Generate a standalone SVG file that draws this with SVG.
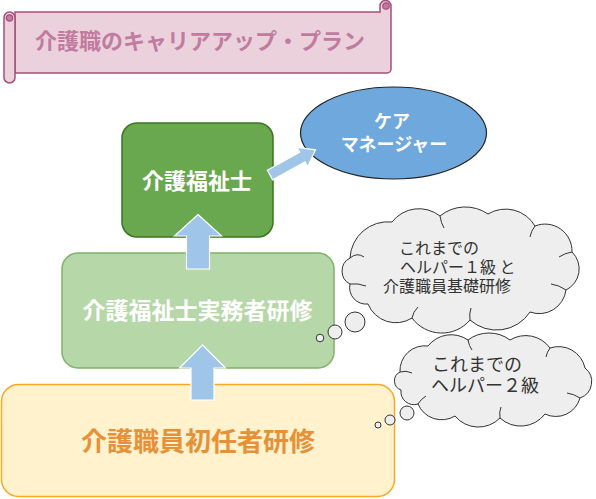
<svg xmlns="http://www.w3.org/2000/svg" width="596" height="499" viewBox="0 0 596 499">
<style>
  text { font-family: "Noto Sans CJK JP", "Noto Sans", sans-serif; }
  .arrow { fill: #9fc5e8; stroke: #ffffff; stroke-width: 1.2; }
  .cloud { fill: #eeeeee; stroke: #333333; stroke-width: 1; }
  .inner { fill: none; stroke: #333333; stroke-width: 1; }
  .ctext { fill: #333333; }
  .wbold { fill: #ffffff; font-weight: bold; text-anchor: middle; }
  .banner { fill: #ead1dc; stroke: #a64d79; stroke-width: 1.5; }
</style>
<rect width="596" height="499" fill="#ffffff"/>

<g id="title">
  <path class="banner" d="M15,12 H380 V6 A5.5,5.5 0 0 1 391,6 V69 A4,4 0 0 1 387,73 H15 Z"/>
  <circle cx="386" cy="6" r="3.2" fill="#c27ba0" stroke="#a64d79" stroke-width="1.2"/>
  <rect class="banner" x="4" y="12" width="11" height="71" rx="5.5"/>
  <circle cx="9.5" cy="18" r="3.2" fill="#c27ba0" stroke="#a64d79" stroke-width="1.2"/>
  <text x="200" y="48.5" font-size="22" font-weight="bold" fill="#c27ba0" text-anchor="middle">介護職のキャリアアップ・プラン</text>
</g>

<g id="shoninsha">
  <rect x="1.5" y="384.5" width="393" height="112" rx="17" fill="#fff2cc" stroke="#f9a825" stroke-width="1.5"/>
  <text x="198" y="451" font-size="26" font-weight="bold" fill="#e69138" text-anchor="middle">介護職員初任者研修</text>
</g>

<g id="jitsumusha">
  <rect x="62" y="253" width="272" height="115" rx="16" fill="#b6d7a8" stroke="#7fb36a" stroke-width="1.5"/>
  <text class="wbold" x="197.5" y="319" font-size="23">介護福祉士実務者研修</text>
</g>

<g id="kaigofukushishi">
  <rect x="122" y="123" width="151" height="114" rx="15" fill="#6aa84f" stroke="#38761d" stroke-width="1.5"/>
  <text class="wbold" x="197" y="188.5" font-size="22">介護福祉士</text>
</g>

<g id="caremanager">
  <ellipse cx="393.5" cy="133" rx="93" ry="46" fill="#6fa8dc" stroke="#222222" stroke-width="1.2"/>
  <text class="wbold" x="392" y="128" font-size="18">ケア</text>
  <text class="wbold" x="394" y="151" font-size="18">マネージャー</text>
</g>

<g id="connectors">
  <polygon class="arrow" points="198,214.5 221.5,236 209.5,236 209.5,269 186.5,269 186.5,236 174.5,236"/>
  <polygon class="arrow" points="202.5,345 225.5,368 214,368 214,400 191,400 191,368 179.5,368"/>
  <polygon class="arrow" transform="translate(270,175) rotate(-29)" points="0,-5.5 37,-5.5 37,-11 52,0 37,11 37,5.5 0,5.5"/>
</g>

<g id="cloud1">
  <path class="cloud" d="M350,258 A38,38 0 0 1 392,222 A34,34 0 0 1 440,216 A40,40 0 0 1 488,214 A34,34 0 0 1 535,226 A27,27 0 0 1 572,252 A23.5,23.5 0 0 1 566,290 A27,27 0 0 1 530,312 A40,40 0 0 1 470,320 A37,37 0 0 1 412,318 A30,30 0 0 1 368,304 A16.5,16.5 0 0 1 350,284 A14.6,14.6 0 0 1 350,258 Z"/>
  <path class="inner" d="M350,258 Q357,252 364,257 M350,284 Q358,283 366,286 M440,216 Q441,223 444,228 M535,226 Q531,231 530,237 M572,252 Q565,253 559,257 M566,290 Q559,285 551,284 M470,320 Q469,314 471,308 M412,318 Q413,312 418,307"/>
  <circle class="cloud" cx="355" cy="322" r="10"/>
  <circle class="cloud" cx="335" cy="332" r="7"/>
  <circle class="cloud" cx="320" cy="338" r="3.8"/>
  <text class="ctext" x="399" y="254" font-size="16">これまでの</text>
  <text class="ctext" x="400" y="273" font-size="16">ヘルパー１級 と</text>
  <text class="ctext" x="383" y="292" font-size="16">介護職員基礎研修</text>
</g>

<g id="cloud2">
  <path class="cloud" d="M400,372 A24.8,24.8 0 0 1 428,346 A29.5,29.5 0 0 1 468,340 A35,35 0 0 1 510,340 A30,30 0 0 1 550,348 A27,27 0 0 1 585,368 A17.3,17.3 0 0 1 580,398 A25,25 0 0 1 545,414 A30.5,30.5 0 0 1 500,418 A30.3,30.3 0 0 1 455,416 A25.6,25.6 0 0 1 418,404 A13,13 0 0 1 401,390 A9.75,9.75 0 0 1 400,372 Z"/>
  <path class="inner" d="M400,372 Q406,370 412,373 M468,340 Q469,346 472,350 M550,348 Q547,352 546,357 M580,398 Q574,394 567,393 M500,418 Q499,412 501,407 M418,404 Q421,399 426,396"/>
  <circle class="cloud" cx="407" cy="413" r="7"/>
  <circle class="cloud" cx="390" cy="420" r="5"/>
  <circle class="cloud" cx="378" cy="425" r="3"/>
  <text class="ctext" x="432" y="371" font-size="18">これまでの</text>
  <text class="ctext" x="431" y="392" font-size="18">ヘルパー２級</text>
</g>
</svg>
